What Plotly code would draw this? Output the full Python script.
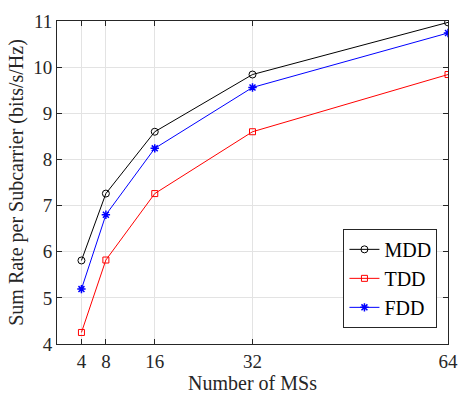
import plotly.graph_objects as go

ms = [4, 8, 16, 32, 64]
mdd = [5.81, 7.26, 8.60, 9.84, 10.97]
tdd = [4.25, 5.82, 7.26, 8.60, 9.84]
fdd = [5.19, 6.80, 8.24, 9.56, 10.74]
x_ticks = [4, 8, 16, 32, 64]
y_ticks = [4, 5, 6, 7, 8, 9, 10, 11]

font = "Liberation Serif, Times New Roman, serif"
txt = "#262626"

fig = go.Figure()
fig.add_trace(go.Scatter(x=ms, y=mdd, name="MDD", mode="lines+markers",
                         line=dict(color="black", width=1),
                         marker=dict(symbol="circle-open", size=7, color="black", line=dict(width=1))))
fig.add_trace(go.Scatter(x=ms, y=tdd, name="TDD", mode="lines+markers",
                         line=dict(color="red", width=1),
                         marker=dict(symbol="square-open", size=6, color="red", line=dict(width=1))))
fig.add_trace(go.Scatter(x=ms, y=fdd, name="FDD", mode="lines+markers",
                         line=dict(color="blue", width=1),
                         marker=dict(symbol="asterisk-open", size=7, color="blue", line=dict(width=1.5, color="blue"))))

axis_common = dict(showline=True, linecolor=txt, linewidth=1, mirror="ticks",
                   ticks="inside", ticklen=5, tickcolor=txt,
                   showgrid=True, gridcolor="#e3e3e3", gridwidth=1, zeroline=False,
                   tickfont=dict(family=font, size=19, color=txt))

fig.update_xaxes(range=[0, 64], tickvals=x_ticks, ticktext=[str(v) for v in x_ticks],
                 title=dict(text="Number of MSs", font=dict(family=font, size=20, color=txt), standoff=4),
                 **axis_common)
fig.update_yaxes(range=[4, 11], tickvals=y_ticks,
                 title=dict(text="Sum Rate per Subcarrier (bits/s/Hz)", font=dict(family=font, size=20, color=txt), standoff=4),
                 **axis_common)

fig.update_layout(
    width=469, height=401,
    margin=dict(l=57, r=11, t=11, b=53),
    plot_bgcolor="white", paper_bgcolor="white",
    font=dict(family=font, size=19, color="black"),
    legend=dict(x=0.973, y=0.05, xanchor="right", yanchor="bottom",
                bordercolor="#262626", borderwidth=1, bgcolor="white",
                font=dict(family=font, size=20, color="black"),
                itemwidth=30, tracegroupgap=0),
    showlegend=True,
)

fig.write_html("out.html")
